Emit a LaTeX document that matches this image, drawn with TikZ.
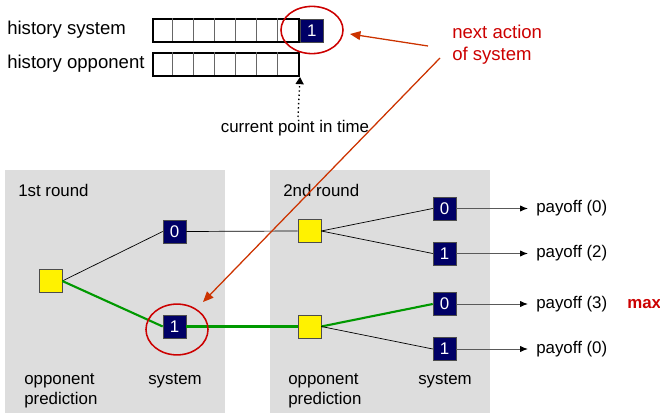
\documentclass[tikz,border=0pt]{standalone}
\usepackage{fontspec}
\setmainfont{Liberation Sans}
\usetikzlibrary{arrows.meta, positioning, shapes.geometric, calc}
\definecolor{navybox}{RGB}{0,0,102}
\definecolor{panelgray}{RGB}{221,221,221}
\definecolor{bestgreen}{RGB}{0,153,0}
\definecolor{ringred}{RGB}{204,0,0}
\definecolor{pointred}{RGB}{204,51,0}
\tikzset{
  sysbox/.style={rectangle, draw=gray!60!black, fill=navybox, text=white, minimum size=0.575cm, inner sep=0pt, font=\fontsize{12}{14}\selectfont},
  predbox/.style={rectangle, draw=gray!60!black, fill=yellow, minimum size=0.575cm, inner sep=0pt},
  histbar/.style={rectangle, draw, line width=1.4pt, minimum width=3.65cm, minimum height=0.575cm, inner sep=0pt},
  roundpanel/.style={rectangle, fill=panelgray, inner sep=0pt, anchor=north west},
  lbl/.style={anchor=west, inner sep=0pt, align=left, font=\fontsize{12}{14.2}\selectfont},
  toplbl/.style={anchor=west, inner sep=0pt, align=left, font=\fontsize{13.2}{15.6}\selectfont},
  ring/.style={ellipse, draw=ringred, line width=1.1pt, inner sep=0pt},
  plainedge/.style={black, line width=0.5pt},
  bestedge/.style={bestgreen, line width=1.5pt},
  payarr/.style={-{Latex[length=2mm, width=1.6mm, color=black]}, gray!70!black, line width=0.7pt},
  pointer/.style={-{Triangle[length=2.6mm, width=2.2mm]}, pointred, line width=0.9pt},
}

\begin{document}
\begin{tikzpicture}[x=0.025cm, y=-0.025cm]
  \useasboundingbox (0,0) rectangle (660,413);

  % history of both players
  \node[toplbl] (lsys) at (7,30) {history system};
  \node[toplbl] (lopp) at (7,64) {history opponent};
  \node[histbar, anchor=north west] (histsys) at (152,18) {};
  \node[histbar, anchor=north west] (histopp) at (152,52) {};
  \foreach \i in {1,...,6} {
    \draw[gray!80!black, line width=0.8pt] ($(histsys.north west)+(\i*20.86,0)$) -- ++(0,23);
    \draw[gray!80!black, line width=0.8pt] ($(histopp.north west)+(\i*20.86,0)$) -- ++(0,23);
  }
  \node[sysbox, anchor=west] (nextsys) at (histsys.east) {1};
  \node[ring, minimum width=1.55cm, minimum height=1.18cm] (ringtop) at (312,30) {};

  % current point in time
  \coordinate (nowfoot) at (298,117);
  \draw[dotted, line width=1pt, -{Triangle[length=1.8mm, width=2mm]}] (nowfoot) -- (histopp.south east);
  \node[lbl, anchor=center] (nowtxt) at (295,128) {current point in time};

  % annotation
  \node[toplbl, text=ringred] (note) at (452,45) {next action\\of system};

  % rounds
  \node[roundpanel, minimum width=5.5cm, minimum height=6.1cm] (round1) at (5,170) {};
  \node[roundpanel, minimum width=5.5cm, minimum height=6.1cm] (round2) at (270,170) {};
  \node[lbl] at (18,190) {1st round};
  \node[lbl] at (283,190) {2nd round};

  % tree
  \node[predbox] (p1) at (50.5,281) {};
  \node[sysbox] (s10) at (174.5,231.5) {0};
  \node[sysbox] (s11) at (174.5,326.5) {1};
  \node[predbox] (p2a) at (309.5,231) {};
  \node[predbox] (p2b) at (309.5,326.5) {};
  \node[sysbox] (s20) at (444.5,208.5) {0};
  \node[sysbox] (s21) at (444.5,253.5) {1};
  \node[sysbox] (s22) at (444.5,304) {0};
  \node[sysbox] (s23) at (444.5,349) {1};

  \draw[plainedge] (p1.east) -- (s10.west);
  \draw[bestedge] (p1.east) -- (s11.west);
  \draw[plainedge] (s10.east) -- (p2a.west);
  \draw[bestedge] (s11.east) -- (p2b.west);
  \draw[plainedge] (p2a.east) -- (s20.west);
  \draw[plainedge] (p2a.east) -- (s21.west);
  \draw[bestedge] (p2b.east) -- (s22.west);
  \draw[plainedge] (p2b.east) -- (s23.west);

  % payoffs
  \foreach \s/\v in {s20/0, s21/2, s22/3, s23/0} {
    \node[lbl] (pay\s) at (\s.east -| 536,0) {payoff (\v)};
    \coordinate (tip\s) at ($(\s.east -| pay\s.west)+(-8,0)$);
    \draw[payarr] (\s.east) -- (tip\s);
  }
  \node[lbl, text=ringred, font=\fontsize{12}{14}\selectfont\bfseries] (best) at (627,304) {max};

  % axis labels
  \node[lbl] at (24,391) {opponent\\prediction};
  \node[lbl] at (148,381) {system};
  \node[lbl] at (288,391) {opponent\\prediction};
  \node[lbl] at (418,381) {system};

  \node[ring, minimum width=1.55cm, minimum height=1.27cm] (ringlow) at (177,329.5) {};

  % pointers from the annotation
  \coordinate (notefoot) at (428,46);
  \coordinate (notelow) at (440,58);
  \coordinate (ringtoptip) at (350,34);
  \coordinate (ringlowtip) at (203,302);
  \draw[pointer] (notefoot) -- (ringtoptip);
  \draw[pointer] (notelow) -- (ringlowtip);
\end{tikzpicture}
\end{document}
